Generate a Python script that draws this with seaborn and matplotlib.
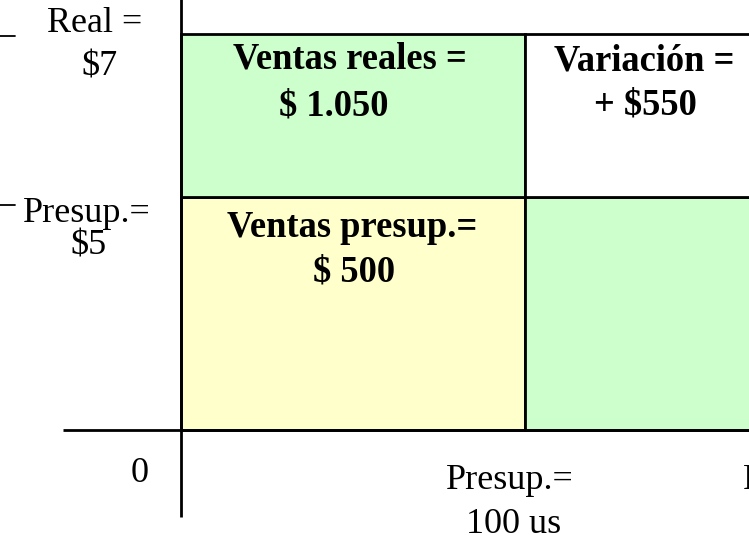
import matplotlib
matplotlib.use("Agg")
import matplotlib.pyplot as plt
import seaborn as sns

# ---------------- data ----------------
scenarios = ["Presup.", "Real"]
units = [100, 150]        # unidades
prices = [5, 7]           # precio unitario ($)
sales = [u * p for u, p in zip(units, prices)]
variation = sales[1] - sales[0]

def money(v):
    return f"{v:,}".replace(",", ".")

# schematic (not-to-scale) drawing levels of the diagram
x_level = {"0": 0.0, "Presup.": 1.0, "Real": 1.8}
y_level = {"0": 0.0, "Presup.": 1.0, "Real": 1.7}

GREEN = "#CCFFCC"
YELLOW = "#FFFFCC"
WHITE = "#FFFFFF"

sns.set_theme(style="white")
plt.rcParams["font.family"] = ["Liberation Serif", "DejaVu Serif"]

W, H = 749, 539
fig = plt.figure(figsize=(W / 100, H / 100), dpi=100)
ax = fig.add_axes([0, 0, 1, 1])
ax.set_axis_off()
# view window (0 -> 181 px, 1 unit = 344 px horizontally; 0 -> 430 px, 1 unit = 233 px vertically)
ax.set_xlim(-181 / 344, (W - 181) / 344)
ax.set_ylim((430 - H) / 233, 430 / 233)

x0, xp, xr = x_level["0"], x_level["Presup."], x_level["Real"]
y0, yp, yr = y_level["0"], y_level["Presup."], y_level["Real"]

blocks = [
    (x0, xp, y0, yp, YELLOW),   # ventas presupuestadas
    (x0, xp, yp, yr, GREEN),    # parte de ventas reales
    (xp, xr, y0, yp, GREEN),
    (xp, xr, yp, yr, WHITE),
]
for bx0, bx1, by0, by1, c in blocks:
    ax.bar(bx0, by1 - by0, width=bx1 - bx0, bottom=by0, align="edge",
           color=c, edgecolor="black", linewidth=2, zorder=2)

# axes of the diagram
ax.plot([x0, x0], [-0.373, 2.0], color="black", lw=2, zorder=3, solid_capstyle="butt")
ax.plot([-0.343, 2.0], [y0, y0], color="black", lw=2, zorder=3, solid_capstyle="butt")
# short leader dashes at the left edge (price levels)
ax.plot([-0.6, -0.4826], [yr - 2 / 233, yr - 2 / 233], color="black", lw=1.3, zorder=3)
ax.plot([-0.6, -0.4826], [yp - 8 / 233, yp - 8 / 233], color="black", lw=1.3, zorder=3)

FS = 26
FSB = 26.3

def lab(text, anchor, off, ha="center", bold=False, size=None):
    ax.annotate(text, xy=anchor, xytext=off, textcoords="offset pixels",
                ha=ha, va="baseline", fontsize=size or (FSB if bold else FS),
                fontweight="bold" if bold else "normal", color="black", zorder=5,
                annotation_clip=False)

# price axis labels
lab(f"{scenarios[1]} =", (x0, yr), (-86.5, 2))
lab(f"${prices[1]}", (x0, yr), (-81.5, -42))
lab(f"{scenarios[0]}=", (x0, yp), (-94.5, -25))
lab(f"${prices[0]}", (x0, yp), (-92.5, -58))
lab("0", (x0, y0), (-41, -52))

# quantity axis labels
lab(f"{scenarios[0]}=", (xp, y0), (-15, -59))
lab(f"{units[0]} us", (xp, y0), (-11.5, -103))
lab(f"{scenarios[1]} =", (xr, y0), (-10, -59))
lab(f"{units[1]} us", (xr, y0), (-6.5, -103))

# block labels
cx_left = (x0 + xp) / 2
cx_right = (xp + xr) / 2
lab("Ventas reales =", (cx_left, yr), (-3, -35), bold=True)
lab(f"$ {money(sales[1])}", (cx_left, yr), (-19, -82), bold=True)
lab("Variación =", (cx_right, yr), (-18.6, -37), bold=True)
lab(f"+ ${money(variation)}", (cx_right, yr), (-17.6, -81), bold=True)
lab("Ventas presup.=", (cx_left, yp), (-0.5, -40), bold=True)
lab(f"$ {money(sales[0])}", (cx_left, yp), (1.5, -85), bold=True)

fig.savefig("out.png", dpi=100)
